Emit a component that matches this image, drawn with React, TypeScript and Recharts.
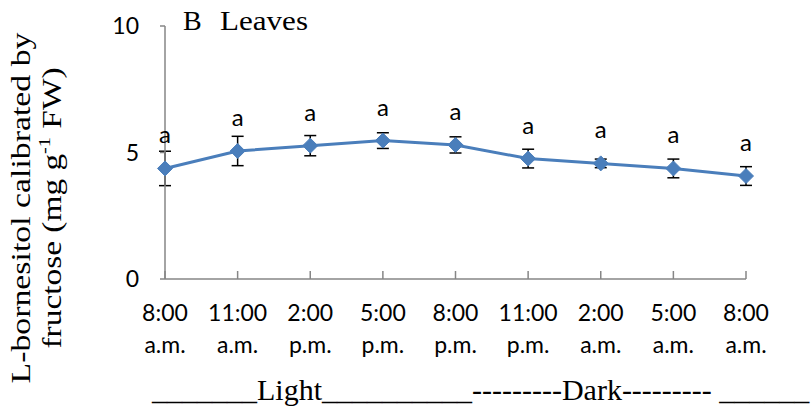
import React from "react";
import { LineChart, Line, XAxis, YAxis, ErrorBar, LabelList } from "recharts";

const timeTop = ["8:00", "11:00", "2:00", "5:00", "8:00", "11:00", "2:00", "5:00", "8:00"];
const timeBottom = ["a.m.", "a.m.", "p.m.", "p.m.", "p.m.", "p.m.", "a.m.", "a.m.", "a.m."];
const bornesitol = [4.37, 5.06, 5.27, 5.47, 5.3, 4.76, 4.57, 4.37, 4.07];
const stdErr = [0.68, 0.58, 0.4, 0.31, 0.32, 0.37, 0.17, 0.37, 0.37];
const letters = ["a", "a", "a", "a", "a", "a", "a", "a", "a"];
const yTicks = [0, 5, 10];

const data = timeTop.map((t, i) => ({
  idx: i,
  value: bornesitol[i],
  err: stdErr[i],
  sig: letters[i],
}));

const BLUE = "#4a7ebb";
const AXIS = "#868686";
const SANS = "Lato, 'Liberation Sans', sans-serif";
const SERIF = "'Liberation Serif', 'Times New Roman', serif";

const TimeTick = (props: any) => {
  const { x, y, payload } = props;
  const i = payload.value as number;
  return (
    <g>
      <line x1={x} y1={y} x2={x} y2={y - 8} stroke={AXIS} strokeWidth={1.5} />
      <text x={x} y={y + 42} textAnchor="middle" fontFamily={SANS} fontSize={23} fill="#000">
        {timeTop[i]}
      </text>
      <text x={x} y={y + 74} textAnchor="middle" fontFamily={SANS} fontSize={23} fill="#000">
        {timeBottom[i]}
      </text>
    </g>
  );
};

const Diamond = (props: any) => {
  const { cx, cy } = props;
  if (cx == null || cy == null) return null;
  const r = 7.5;
  return (
    <polygon
      points={`${cx},${cy - r} ${cx + r},${cy} ${cx},${cy + r} ${cx - r},${cy}`}
      fill={BLUE}
      stroke={BLUE}
    />
  );
};

const SigLabel = (props: any) => {
  const { x, y, value } = props;
  return (
    <text x={x} y={y - 25} textAnchor="middle" fontFamily={SANS} fontSize={24} fill="#000">
      {value}
    </text>
  );
};

export default function App() {
  return (
    <div style={{ position: "absolute", left: 0, top: 0, width: 811, height: 412, background: "#fff" }}>
      <LineChart
        width={811}
        height={412}
        data={data}
        margin={{ top: 26, right: 65, bottom: 63, left: 0 }}
      >
        <XAxis
          dataKey="idx"
          type="category"
          height={70}
          axisLine={{ stroke: AXIS, strokeWidth: 1.5 }}
          tickLine={false}
          tickSize={0}
          tickMargin={0}
          interval={0}
          tick={<TimeTick />}
        />
        <YAxis
          width={165}
          domain={[0, 10]}
          ticks={yTicks}
          interval={0}
          axisLine={{ stroke: AXIS, strokeWidth: 1.5 }}
          tickLine={{ stroke: AXIS, strokeWidth: 1.5 }}
          tickSize={5}
          tickMargin={21}
          tick={{ fontFamily: SANS, fontSize: 23, fill: "#000" }}
        />
        <Line
          dataKey="value"
          stroke={BLUE}
          strokeWidth={3}
          dot={<Diamond />}
          activeDot={false}
          isAnimationActive={false}
        >
          <ErrorBar dataKey="err" direction="y" width={6} stroke="#000" strokeWidth={1.5} />
          <LabelList dataKey="sig" content={<SigLabel />} />
        </Line>
      </LineChart>
      <svg
        width={811}
        height={412}
        style={{ position: "absolute", left: 0, top: 0, pointerEvents: "none" }}
      >
        <text x={183} y={30} fontFamily={SERIF} fontSize={28} fill="#000">
          B
        </text>
        <text x={220} y={30} fontFamily={SERIF} fontSize={28} fill="#000" textLength={88} lengthAdjust="spacingAndGlyphs">
          Leaves
        </text>
        <g transform="translate(30, 208) rotate(-90)">
          <text x={0} y={0} textAnchor="middle" fontFamily={SERIF} fontSize={28} fill="#000" textLength={351} lengthAdjust="spacingAndGlyphs">
            L-bornesitol calibrated by
          </text>
          <text x={0} y={31} textAnchor="middle" fontFamily={SERIF} fontSize={28} fill="#000" textLength={281} lengthAdjust="spacingAndGlyphs">
            fructose (mg g
            <tspan fontSize={17} dy={-11}>-1</tspan>
            <tspan dy={11}> FW)</tspan>
          </text>
        </g>
        <text x={152} y={400} fontFamily={SERIF} fontSize={30} fill="#000" style={{ whiteSpace: "pre" }}>
          _______Light__________---------Dark--------- ______
        </text>
      </svg>
    </div>
  );
}
